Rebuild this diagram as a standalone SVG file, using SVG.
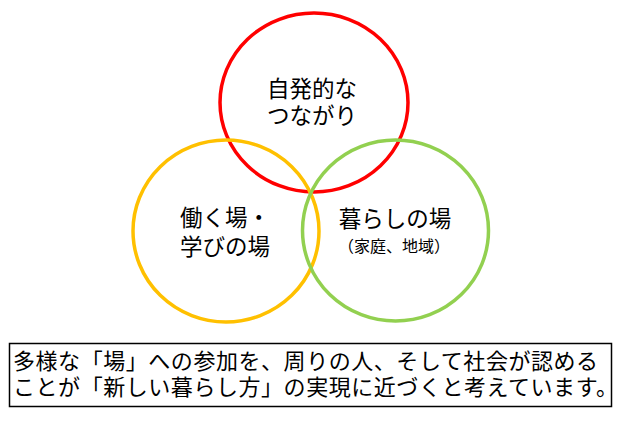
<svg xmlns="http://www.w3.org/2000/svg" width="621" height="422" viewBox="0 0 621 422">
<style>
.c{fill:none;stroke-width:3.5}
.t{font-family:"Noto Sans CJK JP","Noto Sans CJK SC",sans-serif;fill:#000;font-size:22.5px;text-anchor:middle}
.s{font-size:16px}
.b{font-family:"Noto Sans CJK JP","Noto Sans CJK SC",sans-serif;fill:#000;font-size:22px;letter-spacing:0.55px}
</style>
<rect width="621" height="422" fill="#fff"/>
<g id="node-red">
<ellipse class="c" cx="314" cy="102.5" rx="94" ry="89.5" stroke="#FF0000"/>
<text class="t"><tspan x="312" y="97">自発的な</tspan><tspan x="312" y="124">つながり</tspan></text>
</g>
<g id="node-orange">
<ellipse class="c" cx="226" cy="231" rx="93" ry="91" stroke="#FFC000"/>
<text class="t"><tspan x="225" y="226">働く場・</tspan><tspan x="225" y="255">学びの場</tspan></text>
</g>
<g id="node-green">
<ellipse class="c" cx="395.5" cy="230.5" rx="93" ry="90.5" stroke="#92D050"/>
<text class="t"><tspan x="395" y="227">暮らしの場</tspan><tspan class="s" x="394" y="252">（家庭、地域）</tspan></text>
</g>
<g id="connectors"></g>
<g id="node-box">
<rect x="9.5" y="343.5" width="602" height="63" fill="#fff" stroke="#000" stroke-width="1.5"/>
<text class="b"><tspan x="13" y="369">多様な「場」への参加を、周りの人、そして社会が認める</tspan><tspan x="13" y="395">ことが「新しい暮らし方」の実現に近づくと考えています。</tspan></text>
</g>
</svg>
